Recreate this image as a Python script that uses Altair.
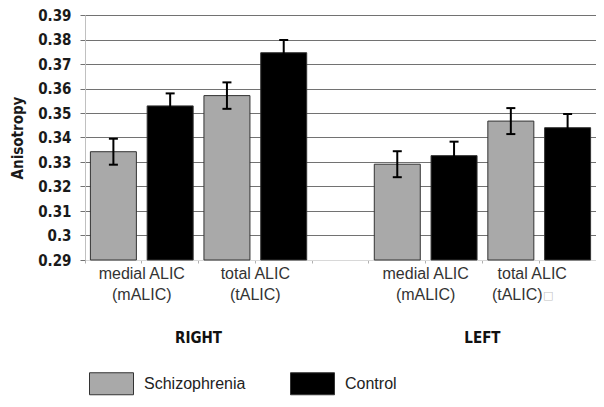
import altair as alt
import pandas as pd

# ---- data ----
sides = ["RIGHT", "RIGHT", "RIGHT", "RIGHT", "LEFT", "LEFT", "LEFT", "LEFT"]
regions = ["mALIC", "mALIC", "tALIC", "tALIC", "mALIC", "mALIC", "tALIC", "tALIC"]
groups = ["Schizophrenia", "Control"] * 4
means = [0.3342, 0.3529, 0.3571, 0.3746, 0.3291, 0.3326, 0.3467, 0.3440]
errors = [0.0053, 0.0051, 0.0054, 0.0052, 0.0053, 0.0057, 0.0053, 0.0056]

side_names = ["RIGHT", "LEFT"]
# category labels as printed
cat_label_keys = ["RIGHT|mALIC", "RIGHT|tALIC", "LEFT|mALIC"]
cat_labels = ["medial ALIC\n(mALIC)", "total ALIC\n(tALIC)", "medial ALIC\n(mALIC)"]
# the last label is set a little left and ends in a missing-glyph box
last_key = "LEFT|tALIC"
last_line1 = "total ALIC"
last_line2 = "(tALIC)"
tofu_text = "\u25a1"
y_ticks = [0.29, 0.30, 0.31, 0.32, 0.33, 0.34, 0.35, 0.36, 0.37, 0.38, 0.39]
legend_order = ["Schizophrenia", "Control"]
legend_colors = ["#a9a9a9", "#000000"]

keys = [f"{s}|{r}|{g}" for s, r, g in zip(sides, regions, groups)]
domain = keys[:4] + ["gap"] + keys[4:]

df = pd.DataFrame({
    "key": keys, "side": sides, "region": regions, "group": groups,
    "mean": means,
    "lo": [m - e for m, e in zip(means, errors)],
    "hi": [m + e for m, e in zip(means, errors)],
})

# labels sit on the boundary between the pair (start of the Control slot)
lab_df = pd.DataFrame({
    "key": [f"{k}|Control" for k in cat_label_keys],
    "label": cat_labels,
})
last1_df = pd.DataFrame({"key": [f"{last_key}|Control"], "label": [last_line1]})
last2_df = pd.DataFrame({"key": [f"{last_key}|Control"], "label": [last_line2]})
tofu_df = pd.DataFrame({"key": [f"{last_key}|Control"], "label": [tofu_text]})
side_df = pd.DataFrame({
    "key": [f"{s}|tALIC|Schizophrenia" for s in side_names],
    "label": side_names,
})

xscale = alt.Scale(domain=domain, paddingInner=0, paddingOuter=0)
yscale = alt.Scale(domain=[0.29, 0.39], zero=False, nice=False, clamp=True)

y_axis = alt.Axis(values=y_ticks, tickCount=20, format=".2~f", title="Anisotropy",
                  labelOverlap=False,
                  grid=True, gridColor="#727272", gridWidth=1,
                  tickColor="#727272", tickSize=5, domainColor="#c0c0c0",
                  labelFont="DejaVu Sans Condensed", labelFontWeight="bold",
                  labelFontSize=15, labelColor="#1a1a1a", labelPadding=9,
                  titleFont="DejaVu Sans Condensed", titleFontWeight="bold",
                  titleFontSize=15, titleColor="#1a1a1a", titlePadding=12)
x_axis = alt.Axis(title=None, labels=False, grid=False, ticks=True,
                  bandPosition=0, tickSize=3, tickColor="#b0b0b0",
                  domainColor="#d8d8d8")

def xenc(**kw):
    return alt.X("key:N", scale=xscale, sort=domain, axis=x_axis, **kw)

bars = alt.Chart(df).mark_bar(
    width=alt.RelativeBandSize(0.81), stroke="#333333", strokeWidth=1
).encode(
    x=xenc(),
    y=alt.Y("mean:Q", scale=yscale, axis=y_axis),
    color=alt.Color("group:N",
                    scale=alt.Scale(domain=legend_order, range=legend_colors),
                    legend=alt.Legend(title=None, orient="none", legendX=4, legendY=346,
                                      direction="horizontal", columns=2,
                                      symbolType="M-1,-0.5H1V0.5H-1Z", symbolSize=1936,
                                      symbolStrokeColor="#333333", symbolStrokeWidth=1,
                                      symbolOpacity=1,
                                      labelFont="Liberation Sans", labelFontSize=16,
                                      labelColor="#222222", labelOffset=10,
                                      columnPadding=42, padding=0)),
)

err_rule = alt.Chart(df).mark_rule(color="black", strokeWidth=2).encode(
    x=xenc(),
    y=alt.Y("lo:Q", scale=yscale, axis=y_axis),
    y2="hi:Q",
)
cap_hi = alt.Chart(df).mark_tick(color="black", thickness=2, size=9, opacity=1).encode(
    x=xenc(),
    y=alt.Y("hi:Q", scale=yscale, axis=y_axis),
)
cap_lo = alt.Chart(df).mark_tick(color="black", thickness=2, size=9, opacity=1).encode(
    x=xenc(),
    y=alt.Y("lo:Q", scale=yscale, axis=y_axis),
)

text_style = dict(font="Liberation Sans", fontSize=16, color="#333333",
                  baseline="top", align="center")

labels = alt.Chart(lab_df).mark_text(lineBreak="\n", lineHeight=21, **text_style).encode(
    x=xenc(bandPosition=0), y=alt.value(251), text="label:N",
)
last1 = alt.Chart(last1_df).mark_text(dx=-7, **text_style).encode(
    x=xenc(bandPosition=0), y=alt.value(251), text="label:N",
)
last2 = alt.Chart(last2_df).mark_text(dx=-22, **text_style).encode(
    x=xenc(bandPosition=0), y=alt.value(272), text="label:N",
)
tofu = alt.Chart(tofu_df).mark_text(
    font="DejaVu Sans", fontSize=11, color="#c4c4c4", baseline="middle",
    align="center", dx=9
).encode(
    x=xenc(bandPosition=0), y=alt.value(281), text="label:N",
)

side_labels = alt.Chart(side_df).mark_text(
    font="DejaVu Sans Condensed", fontSize=15, fontWeight="bold", color="#111111",
    baseline="middle", align="center"
).encode(
    x=xenc(bandPosition=0), y=alt.value(323), text="label:N",
)

chart = alt.layer(bars, err_rule, cap_hi, cap_lo, labels, last1, last2, tofu,
                  side_labels).properties(
    width=511, height=245,
    padding={"left": 77, "top": 7, "right": 0, "bottom": 140},
    autosize=alt.AutoSizeParams(type="none"),
).configure_view(stroke=None).configure(background="white")

chart.save("out.html", embed_options={"renderer": "svg", "actions": False})
